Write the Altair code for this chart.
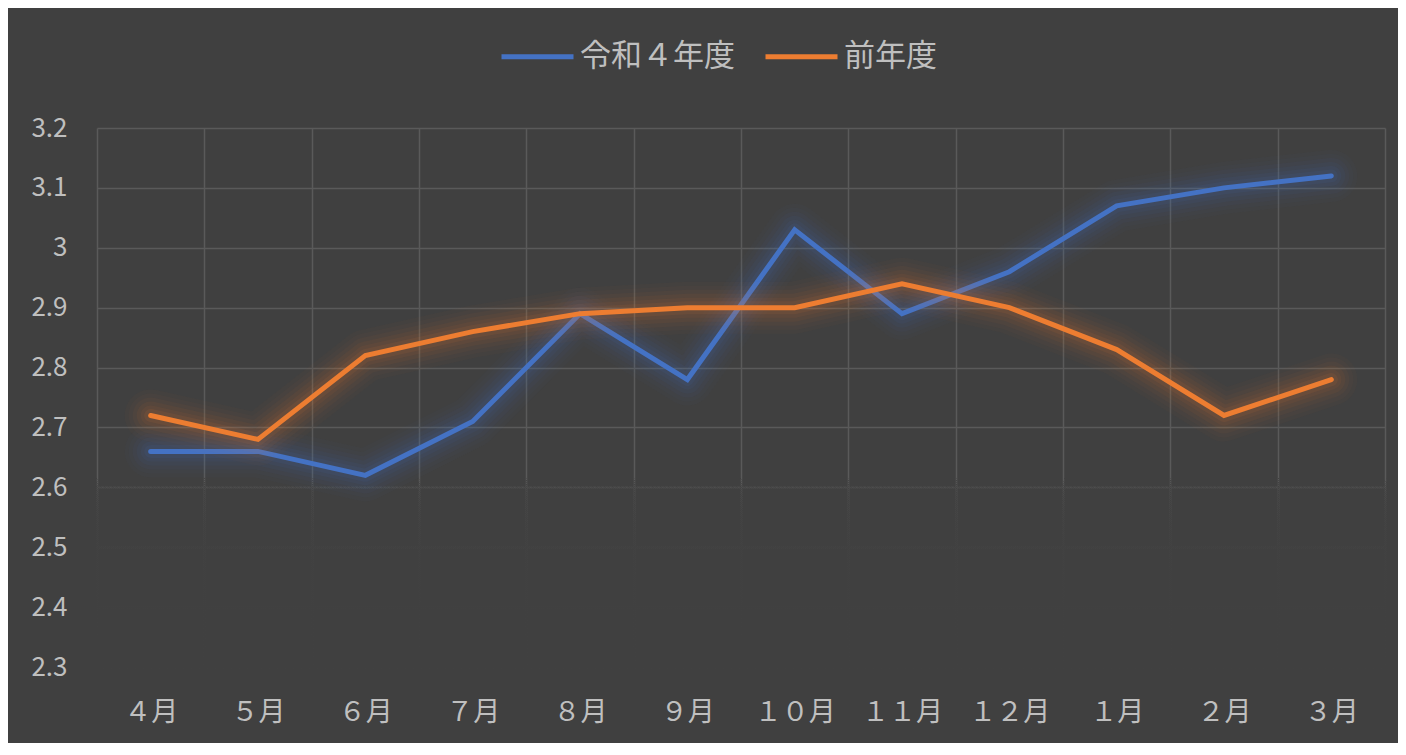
import altair as alt
import pandas as pd

months = ["４月", "５月", "６月", "７月", "８月", "９月", "１０月", "１１月", "１２月", "１月", "２月", "３月"]
reiwa4 = [2.66, 2.66, 2.62, 2.71, 2.89, 2.78, 3.03, 2.89, 2.96, 3.07, 3.10, 3.12]
previous = [2.72, 2.68, 2.82, 2.86, 2.89, 2.90, 2.90, 2.94, 2.90, 2.83, 2.72, 2.78]
series_names = ["令和４年度", "前年度"]
series_colors = ["#4472C4", "#ED7D31"]
y_ticks = [2.3, 2.4, 2.5, 2.6, 2.7, 2.8, 2.9, 3.0, 3.1, 3.2]

rows = []
for name, vals in zip(series_names, [reiwa4, previous]):
    for m, v in zip(months, vals):
        rows.append({"month": m, "value": v, "series": name})
df = pd.DataFrame(rows)

BG = "#404040"
GRID = "#5a5a5a"
TXT = "#bfbfbf"
FONT = "Noto Sans CJK JP"

x_enc = alt.X(
    "month:N",
    sort=months,
    scale=alt.Scale(type="band", paddingInner=0, paddingOuter=0),
    axis=alt.Axis(title=None, tickBand="extent", grid=True, ticks=False, domain=False,
                  labelAngle=0, labelPadding=32, labelFontSize=27, labelColor=TXT,
                  labelFont=FONT, gridColor=GRID, gridWidth=1.5),
)
y_axis = alt.Axis(title=None, values=y_ticks, format=".2~g", ticks=False, domain=False,
                  grid=True, labelPadding=30, labelFontSize=26, labelColor=TXT, labelFont=FONT,
                  gridColor=GRID, gridWidth=1.5)
y_enc = alt.Y("value:Q", scale=alt.Scale(domain=[2.3, 3.2], nice=False, zero=False), axis=y_axis)

base = alt.Chart(df).encode(x=x_enc, y=y_enc)

fade = alt.Chart(df).mark_rect(
    color=alt.Gradient(
        gradient="linear", x1=0, y1=0, x2=0, y2=1,
        stops=[
            alt.GradientStop(offset=0, color="rgba(64,64,64,0)"),
            alt.GradientStop(offset=0.06, color="rgba(64,64,64,0.05)"),
            alt.GradientStop(offset=0.36, color="rgba(64,64,64,0.3)"),
            alt.GradientStop(offset=0.6, color="rgba(64,64,64,0.65)"),
            alt.GradientStop(offset=0.7, color="rgba(64,64,64,0.85)"),
            alt.GradientStop(offset=1, color="rgba(64,64,64,1)"),
        ],
    ),
    clip=False,
).encode(
    x=alt.value(-3), x2=alt.value(1291),
    y=alt.YDatum(2.62, axis=y_axis),
    y2=alt.datum(2.285),
)

glow_steps = [(52, 0.025), (44, 0.03), (36, 0.04), (28, 0.05), (20, 0.06), (13, 0.08)]

layers = [fade]
for name, col in zip(series_names, series_colors):
    sub = base.transform_filter(alt.datum.series == name)
    for w, op in glow_steps:
        layers.append(sub.mark_line(color=col, strokeWidth=w, opacity=op,
                                    strokeCap="round", strokeJoin="round"))
    layers.append(sub.mark_line(strokeWidth=5, strokeCap="round").encode(
        color=alt.Color("series:N",
                        scale=alt.Scale(domain=series_names, range=series_colors),
                        legend=alt.Legend(title=None, orient="none", direction="horizontal",
                                          legendX=402, legendY=-110,
                                          symbolType="stroke", symbolSize=5184,
                                          symbolStrokeWidth=5, labelFontSize=31,
                                          labelColor=TXT, labelFont=FONT,
                                          columnPadding=20, labelOffset=4))
    ))

chart = alt.layer(*layers).properties(
    width=1288,
    height=539,
    background=BG,
    padding={"left": 89, "top": 120, "right": 13, "bottom": 76},
    autosize=alt.AutoSizeParams(type="none"),
).configure_view(stroke=None).configure_axisY(grid=True, gridColor=GRID)

chart.save("out.html", embed_options={"renderer": "svg", "actions": False})
